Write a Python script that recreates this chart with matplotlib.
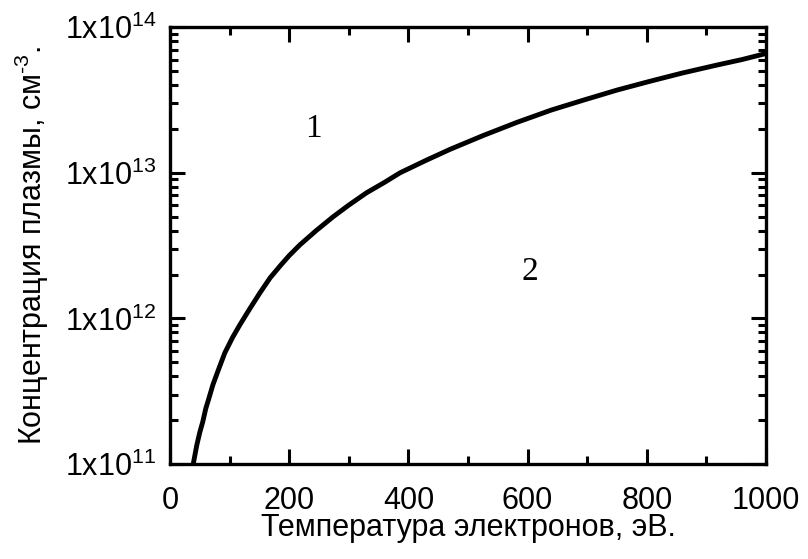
import matplotlib
matplotlib.use('Agg')
import matplotlib.pyplot as plt
from matplotlib.ticker import LogLocator, MultipleLocator, NullFormatter

plt.rcParams['font.family'] = ['Liberation Sans', 'DejaVu Sans']
plt.rcParams['mathtext.fontset'] = 'custom'
plt.rcParams['mathtext.rm'] = 'Liberation Sans'
plt.rcParams['mathtext.it'] = 'Liberation Sans'

# electron temperature, eV
temperature = [39, 45, 50, 55, 60, 65, 72, 80, 92, 105, 117, 133, 151, 168,
               185, 200, 218, 245, 274, 300, 330, 360, 386, 430, 470, 525,
               582, 640, 693, 750, 805, 860, 918, 960, 1000]
# plasma concentration, cm^-3 (boundary between regions 1 and 2)
concentration = [1.0e11, 1.35e11, 1.65e11, 1.95e11, 2.4e11, 2.8e11, 3.5e11,
                 4.3e11, 5.8e11, 7.4e11, 9.0e11, 1.15e12, 1.5e12, 1.9e12,
                 2.3e12, 2.7e12, 3.2e12, 4.0e12, 5.0e12, 6.0e12, 7.3e12,
                 8.6e12, 1.0e13, 1.22e13, 1.45e13, 1.8e13, 2.22e13, 2.7e13,
                 3.15e13, 3.7e13, 4.25e13, 4.85e13, 5.5e13, 6.0e13, 6.6e13]

x_ticks = [0, 200, 400, 600, 800, 1000]
y_ticks = [1e11, 1e12, 1e13, 1e14]
y_tick_labels = [r'$\mathregular{1x10^{11}}$', r'$\mathregular{1x10^{12}}$',
                 r'$\mathregular{1x10^{13}}$', r'$\mathregular{1x10^{14}}$']

region_labels = ['1', '2']
region_pos = [(240, 2.0e13), (604, 2.1e12)]

fig = plt.figure(figsize=(8.08, 5.59), dpi=100)
ax = fig.add_axes([0.2104, 0.170, 0.7376, 0.7813])

ax.plot(temperature, concentration, color='black', lw=3.5,
        solid_capstyle='butt', solid_joinstyle='round')

ax.set_yscale('log')
ax.set_xlim(0, 1000)
ax.set_ylim(1e11, 1e14)

ax.set_xticks(x_ticks)
ax.xaxis.set_minor_locator(MultipleLocator(100))
ax.set_yticks(y_ticks)
ax.set_yticklabels(y_tick_labels)
ax.yaxis.set_minor_locator(LogLocator(base=10, subs=range(2, 10)))
ax.yaxis.set_minor_formatter(NullFormatter())

ax.tick_params(which='both', direction='in', top=True, right=True,
               width=2.2, labelsize=22, color='black')
ax.tick_params(which='major', length=11)
ax.tick_params(which='minor', length=5.5)
ax.tick_params(axis='x', which='major', pad=16)
ax.tick_params(axis='y', which='major', pad=10)

for s in ax.spines.values():
    s.set_linewidth(2.4)

ax.set_xlabel('Температура электронов, эВ.', fontsize=22, labelpad=-2)
ax.set_ylabel(r'Концентрация плазмы, см$^{\text{-3}}$.', fontsize=22, labelpad=10)

for lab, (tx, ty) in zip(region_labels, region_pos):
    ax.text(tx, ty, lab, fontsize=24, family='Liberation Serif',
            ha='center', va='center')

fig.savefig('out.png', dpi=100)
